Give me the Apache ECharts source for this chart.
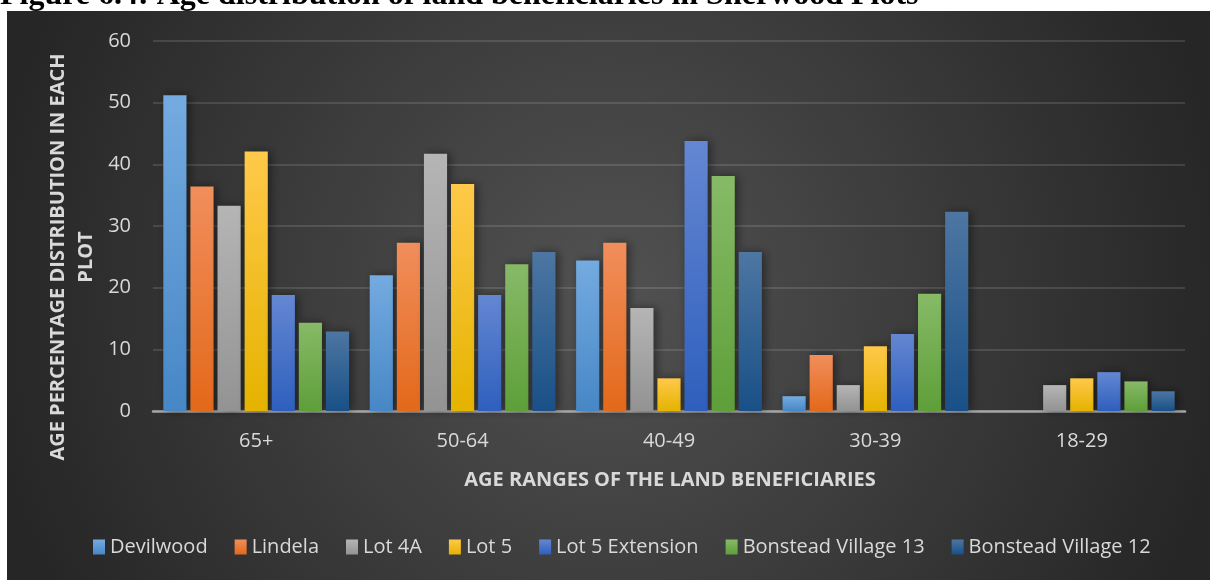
<!DOCTYPE html>
<html>
<head>
<meta charset="utf-8">
<style>
  html, body { margin: 0; padding: 0; background: #fff; }
  #chart { width: 1210px; height: 580px; }
</style>
<script src="https://cdn.jsdelivr.net/npm/echarts@6/dist/echarts.min.js"></script>
</head>
<body>
<div id="chart"></div>
<script>
const categories = ['65+', '50-64', '40-49', '30-39', '18-29']
const yTicks = [0, 10, 20, 30, 40, 50, 60]

const devilwood = [51.2, 22.0, 24.4, 2.4, 0]
const lindela = [36.4, 27.3, 27.3, 9.1, 0]
const lot4a = [33.3, 41.7, 16.7, 4.2, 4.2]
const lot5 = [42.1, 36.8, 5.3, 10.5, 5.3]
const lot5Extension = [18.8, 18.8, 43.8, 12.5, 6.3]
const bonstead13 = [14.3, 23.8, 38.1, 19.0, 4.8]
const bonstead12 = [12.9, 25.8, 25.8, 32.3, 3.2]

const seriesList = [
  { name: 'Devilwood', data: devilwood, top: '#74abe0', bottom: '#4787c6' },
  { name: 'Lindela', data: lindela, top: '#f18e5c', bottom: '#e3691a' },
  { name: 'Lot 4A', data: lot4a, top: '#b5b5b5', bottom: '#939393' },
  { name: 'Lot 5', data: lot5, top: '#ffc94a', bottom: '#e5b300' },
  { name: 'Lot 5 Extension', data: lot5Extension, top: '#6487d2', bottom: '#2e5fbd' },
  { name: 'Bonstead Village 13', data: bonstead13, top: '#87ba67', bottom: '#5e9f39' },
  { name: 'Bonstead Village 12', data: bonstead12, top: '#4d76a2', bottom: '#195087' }
]

const chart = echarts.init(document.getElementById('chart'))
const labelColor = '#d9d9d9'

const option = {
  backgroundColor: '#ffffff',
  animation: false,
  textStyle: { fontFamily: 'Open Sans' },
  graphic: [
    {
      type: 'rect',
      z: -10,
      silent: true,
      shape: { x: 7, y: 11, width: 1203, height: 569 },
      style: {
        fill: new echarts.graphic.RadialGradient(0.5, 0.5, 1.1, [
          { offset: 0, color: '#525252' },
          { offset: 1, color: '#262626' }
        ])
      }
    },
    {
      type: 'text',
      left: 0,
      top: -20,
      style: {
        text: 'Figure 6.4: Age distribution of land beneficiaries in Sherwood Plots',
        font: 'bold 32px "Liberation Serif"',
        fill: '#000'
      }
    },
    {
      type: 'text',
      x: 72,
      y: 257,
      rotation: Math.PI / 2,
      style: {
        text: 'AGE PERCENTAGE DISTRIBUTION IN EACH\nPLOT',
        font: 'bold 20px "Open Sans"',
        fill: labelColor,
        align: 'center',
        verticalAlign: 'middle',
        lineHeight: 28
      }
    },
    {
      type: 'text',
      x: 670,
      y: 480,
      style: {
        text: 'AGE RANGES OF THE LAND BENEFICIARIES',
        font: 'bold 20px "Open Sans"',
        fill: labelColor,
        align: 'center',
        verticalAlign: 'middle'
      }
    }
  ],
  grid: { left: 153, right: 25, top: 41, bottom: 169 },
  legend: {
    bottom: 18,
    left: 88,
    itemWidth: 12,
    itemHeight: 15,
    itemGap: 27,
    icon: 'rect',
    itemStyle: { shadowBlur: 0, shadowOffsetX: 0 },
    textStyle: { color: labelColor, fontSize: 20, fontFamily: 'Open Sans' },
    data: seriesList.map(s => s.name)
  },
  xAxis: {
    type: 'category',
    data: categories,
    axisTick: { show: false },
    axisLine: { lineStyle: { color: '#a6a6a6', width: 2.5 } },
    axisLabel: { color: labelColor, fontSize: 20, margin: 20 }
  },
  yAxis: {
    type: 'value',
    min: yTicks[0],
    max: yTicks[yTicks.length - 1],
    interval: 10,
    axisLine: { show: false },
    axisTick: { show: false },
    axisLabel: { color: labelColor, fontSize: 20, margin: 22 },
    splitLine: { lineStyle: { color: 'rgba(255,255,255,0.12)', width: 2 } }
  },
  series: seriesList.map(s => ({
    name: s.name,
    type: 'bar',
    data: s.data,
    barGap: '17%',
    barCategoryGap: '10%',
    itemStyle: {
      color: new echarts.graphic.LinearGradient(0, 0, 0, 1, [
        { offset: 0, color: s.top },
        { offset: 1, color: s.bottom }
      ]),
      shadowBlur: 10,
      shadowColor: 'rgba(0,0,0,0.45)',
      shadowOffsetX: 3
    }
  }))
}

chart.setOption(option)
</script>
</body>
</html>
